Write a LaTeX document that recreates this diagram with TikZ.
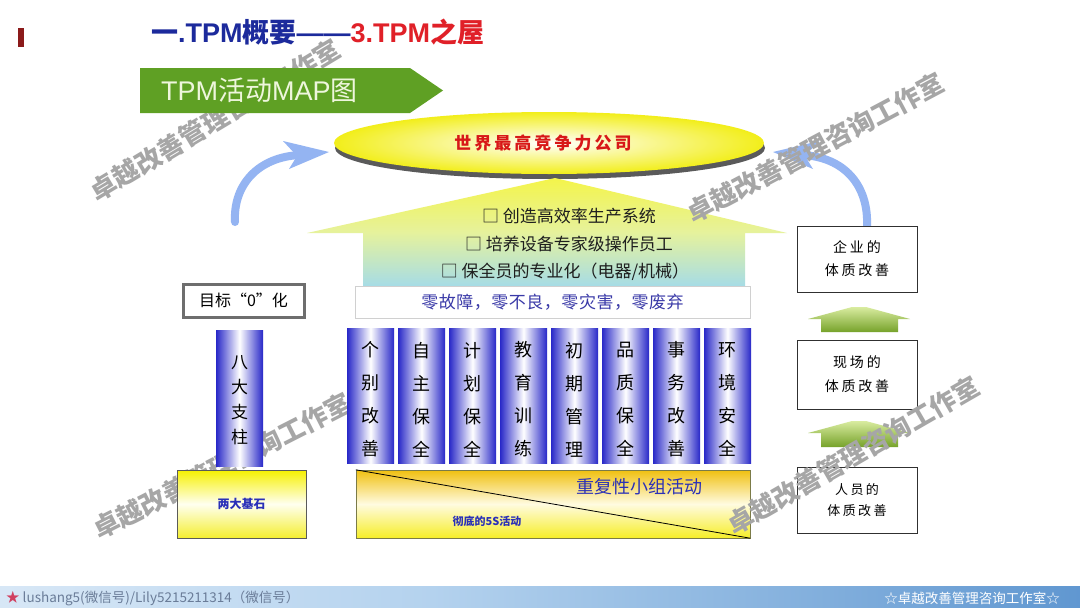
\documentclass[tikz,border=0pt]{standalone}
\usepackage{fontspec}
\setmainfont{Noto Sans CJK SC}
\newfontfamily\lat{Liberation Sans}
\definecolor{barred}{HTML}{8B1A1A}
\definecolor{titleblue}{HTML}{1C2A9C}
\definecolor{titlered}{HTML}{E02028}
\definecolor{bannergreen}{HTML}{5FA024}
\definecolor{bannertext}{HTML}{EEF6DC}
\definecolor{elyellow}{HTML}{F2EE1A}
\definecolor{shadowgray}{HTML}{5A5A5A}
\definecolor{worldred}{HTML}{D81818}
\definecolor{arrowtop}{HTML}{F4F44A}
\definecolor{arrowmid}{HTML}{E6F29C}
\definecolor{arrowcyan}{HTML}{A6DCE6}
\definecolor{goaltext}{HTML}{1E1E1E}
\definecolor{stripborder}{HTML}{D0D0D0}
\definecolor{striptext}{HTML}{3A3AA8}
\definecolor{pblue}{HTML}{2828C8}
\definecolor{zeroborder}{HTML}{6E6E6E}
\definecolor{basetop}{HTML}{F0C010}
\definecolor{basemid}{HTML}{FFFBE0}
\definecolor{basebot}{HTML}{F6EE28}
\definecolor{stonetop}{HTML}{F6F000}
\definecolor{stonemid}{HTML}{FFFFF0}
\definecolor{stonebot}{HTML}{F4EE30}
\definecolor{basetext}{HTML}{2A30B8}
\definecolor{rboxborder}{HTML}{303030}
\definecolor{gtop}{HTML}{D9ECA0}
\definecolor{gbot}{HTML}{76A22A}
\definecolor{arrowblue}{HTML}{94B4F2}
\definecolor{wmgray}{HTML}{A6A6A6}
\definecolor{footA}{HTML}{B8D4F0}
\definecolor{footB}{HTML}{F2F7FC}
\definecolor{footM}{HTML}{B4D2EE}
\definecolor{footC}{HTML}{1A66B8}
\definecolor{foottext}{HTML}{6A7C98}
\definecolor{footstar}{HTML}{D04060}
\pgfdeclarehorizontalshading{footshade}{100bp}{color(0bp)=(footA); color(10bp)=(footB); color(45bp)=(footM); color(100bp)=(footC)}
\begin{document}
\begin{tikzpicture}[x=1pt,y=-1pt,
  wm/.style={text=wmgray, font=\fontsize{26}{30}\selectfont\bfseries, inner sep=0},
  pillar/.style={shade, left color=pblue, right color=pblue, middle color=white,
    minimum width=47pt, minimum height=135pt, inner sep=0},
  ptext/.style={inner sep=0, align=center, font=\fontsize{18}{33}\selectfont},
  rbox/.style={draw=rboxborder, line width=0.9pt, fill=white, minimum width=120pt,
    inner sep=0, align=center},
  goal/.style={text=goaltext, font=\fontsize{17}{20}\selectfont, inner sep=0},
  garrow/.style={top color=gtop, bottom color=gbot},
  barrow/.style={draw=arrowblue, line width=8pt, line cap=round}
]
\useasboundingbox (0,0) rectangle (1080,608);
\fill[white] (0,0) rectangle (1080,608);

% watermarks behind content
\node[wm, rotate=31] (wm1) at (215,120) {卓越改善管理咨询工作室};
\node[wm, rotate=27] (wm3) at (222,466) {卓越改善管理咨询工作室};

% title
\fill[barred] (18,28) rectangle (24,47);
\node[anchor=west, inner sep=0, font=\fontsize{27}{30}\selectfont\bfseries] (title) at (151,32)
  {\textcolor{titleblue}{一{\lat .TPM}概要{\lat ——}}\textcolor{titlered}{{\lat 3.TPM}之屋}};

% banner
\fill[bannergreen] (140,68) -- (410,68) -- (443,90.5) -- (410,113) -- (140,113) -- cycle;
\node[anchor=west, inner sep=0, text=bannertext, font=\fontsize{27}{30}\selectfont] (banner) at (161,90)
  {{\lat TPM}活动{\lat MAP}图};

% top ellipse
\fill[shadowgray] (550,148) ellipse [x radius=215, y radius=31];
\shade[inner color=white, outer color=elyellow] (549,143) ellipse [x radius=215, y radius=31];
\node[text=worldred, font=\fontsize{17}{20}\selectfont\bfseries\addfontfeature{LetterSpace=18}] (world) at (543,143) {世界最高竞争力公司};

% blue curved arrows
\coordinate (la0) at (235,222);
\coordinate (la1) at (300,155);
\draw[barrow] (la0) .. controls (233,185) and (258,157) .. (la1);
\fill[arrowblue] (283,141) -- (329,152) -- (289,169) -- (297,156) -- cycle;
\coordinate (ra0) at (867,227);
\coordinate (ra1) at (802,155);
\draw[barrow] (ra0) .. controls (869,185) and (844,157) .. (ra1);
\fill[arrowblue] (819,141) -- (773,152) -- (813,169) -- (805,156) -- cycle;

% big arrow (roof)
\shade[top color=arrowtop, bottom color=arrowcyan, middle color=arrowmid]
  (555,178) -- (787,233) -- (745,233) -- (745,286) -- (363,286) -- (363,233) -- (307,233) -- cycle;
\node[goal] (g1) at (569,216) {□ 创造高效率生产系统};
\node[goal] (g2) at (569,244) {□ 培养设备专家级操作员工};
\node[goal] (g3) at (565,272) {□ 保全员的专业化（电器/机械）};

% zero strip
\node[draw=stripborder, fill=white, minimum width=395pt, minimum height=32pt, inner sep=0,
  text=striptext, font=\fontsize{17}{20}\selectfont\addfontfeature{LetterSpace=3}] (strip) at (552.5,302) {零故障，零不良，零灾害，零废弃};

% left column
\node[draw=zeroborder, line width=3pt, fill=white, minimum width=121pt, minimum height=33pt, inner sep=0,
  font=\fontsize{16}{20}\selectfont] (zero) at (243.5,300.5) {目标“0”化};
\node[pillar, minimum height=136pt] (eight) at (239.5,398) {};
\node[ptext, font=\fontsize{17}{25}\selectfont, yshift=-2pt] (eightt) at (eight.center) {八\\大\\支\\柱};
\node[draw=shadowgray, top color=stonetop, bottom color=stonebot, middle color=stonemid,
  minimum width=129pt, minimum height=68pt, inner sep=0, text=basetext,
  font=\fontsize{12}{14}\selectfont\bfseries] (stone) at (241.5,504) {两大基石};

% eight pillars
\foreach \i/\t in {0/个\\别\\改\\善, 1/自\\主\\保\\全, 2/计\\划\\保\\全, 3/教\\育\\训\\练,
                   4/初\\期\\管\\理, 5/品\\质\\保\\全, 6/事\\务\\改\\善, 7/环\\境\\安\\全}{
  \node[pillar] (p\i) at ({370.5+51*\i},395.5) {};
  \node[ptext, yshift=-4pt] (pt\i) at (p\i.center) {\t};
}

% base
\node[draw=shadowgray!80!yellow, top color=basetop, bottom color=basebot, middle color=basemid,
  minimum width=394pt, minimum height=68pt, inner sep=0] (base) at (553,504) {};
\draw[black, line width=0.8pt] (base.north west) -- (base.south east);
\node[text=basetext, font=\fontsize{18}{20}\selectfont] (small) at (639,487) {重复性小组活动};
\node[text=basetext, font=\fontsize{11}{13}\selectfont\bfseries] (fives) at (487,521) {彻底的5S活动};

% right column
\node[rbox, minimum height=66pt, font=\fontsize{14}{23}\selectfont\addfontfeature{LetterSpace=20}] (r1) at (857,259) {企业的\\体质改善};
\node[rbox, minimum height=69pt, font=\fontsize{14}{24}\selectfont\addfontfeature{LetterSpace=20}] (r2) at (857,374.5) {现场的\\体质改善};
\node[rbox, minimum height=66pt, font=\fontsize{13}{21}\selectfont\addfontfeature{LetterSpace=18}] (r3) at (857,500) {人员的\\体质改善};
\shade[garrow] (808,319) -- (852,307) -- (866,307) -- (910,319) -- (898,319) -- (898,332) -- (821,332) -- (821,319) -- cycle;
\shade[garrow] (808,433) -- (852,421) -- (866,421) -- (910,433) -- (898,433) -- (898,447) -- (821,447) -- (821,433) -- cycle;

% watermarks on top
\node[wm, rotate=28] (wm2) at (815,148) {卓越改善管理咨询工作室};
\node[wm, rotate=30] (wm4) at (853,455) {卓越改善管理咨询工作室};

% footer
\shade[shading=footshade] (0,586) rectangle (1080,608);
\node[anchor=west, inner sep=0, text=foottext, font=\fontsize{13.5}{15}\selectfont] (footl) at (6,598)
  {\textcolor{footstar}{★} lushang5(微信号)/Lily5215211314（微信号）};
\node[anchor=east, inner sep=0, text=white, font=\fontsize{13.5}{15}\selectfont] (footr) at (1060,598)
  {☆卓越改善管理咨询工作室☆};
\end{tikzpicture}
\end{document}
